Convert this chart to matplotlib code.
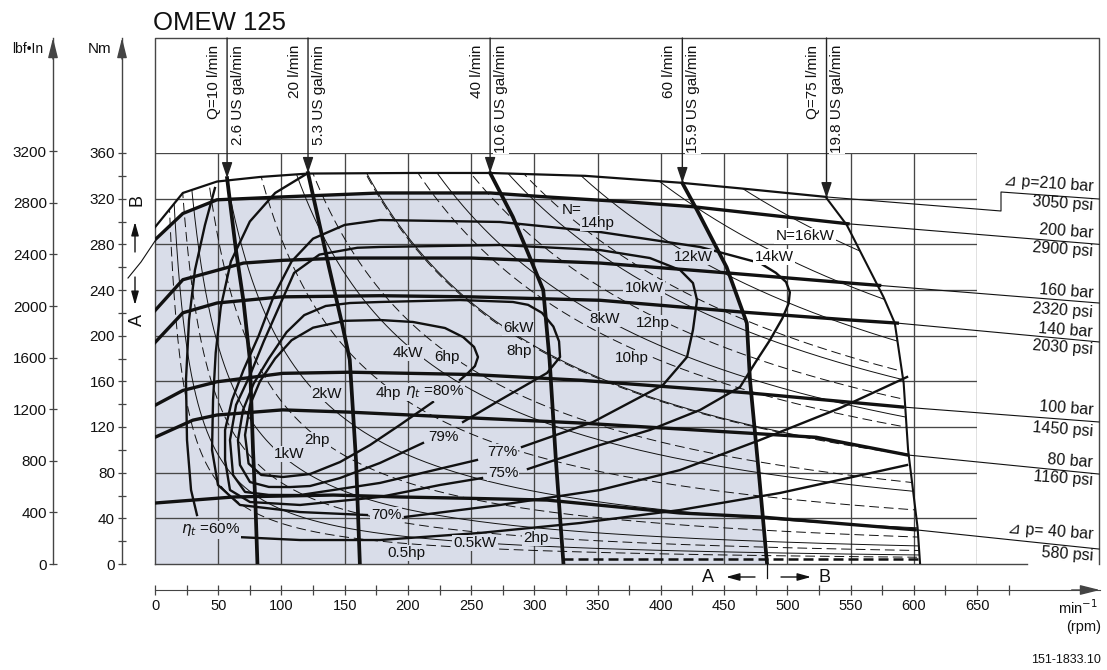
import numpy as np
import matplotlib
matplotlib.use("Agg")
import matplotlib.pyplot as plt
from matplotlib.patches import Polygon

plt.rcParams["font.family"] = ["Liberation Sans", "DejaVu Sans"]
plt.rcParams["mathtext.fontset"] = "dejavusans"

# ======================= DATA =======================
TITLE = "OMEW 125"
RPM_TICKS = list(range(0, 651, 50))
RPM_MINOR = list(range(25, 676, 50))
NM_TICKS = list(range(0, 361, 40))
NM_MINOR = list(range(20, 341, 40))
LBF_TICKS = list(range(0, 3201, 400))
NM_PER_LBFIN = 0.112985

# pressure drop curves (bar / psi), thick part: speed [min-1], torque [Nm]
PRESS_BAR = [210, 200, 160, 140, 100, 80, 40]
PRESS_PSI = [3050, 2900, 2320, 2030, 1450, 1160, 580]
p210_rpm = [0, 22, 49, 83, 121, 204, 265, 340, 415, 463, 531]
p210_nm = [295, 325, 335, 339, 342, 342.5, 342.5, 340, 334, 329, 321.5]
p200_rpm = [0, 22, 49, 100, 178, 265, 310, 376, 425, 548]
p200_nm = [284, 307, 319, 321.5, 325, 325, 321.5, 317, 313, 298]
p160_rpm = [0, 22, 70, 101, 150, 250, 352, 452, 550, 573]
p160_nm = [222, 249, 263.6, 266, 268, 268, 263.6, 255, 246, 244]
p140_rpm = [0, 22, 49, 100, 178, 250, 352, 465, 550, 587]
p140_nm = [194, 220, 228.6, 234, 235, 234, 231, 220.6, 213.7, 211]
p100_rpm = [0, 22, 49, 101, 154, 250, 336, 468, 591]
p100_nm = [139, 152, 159.6, 167, 168, 166, 161, 150, 137.5]
p80_rpm = [0, 30, 49, 101, 154, 336, 468, 523, 595]
p80_nm = [111, 126, 130.5, 135, 133, 123.5, 114.7, 111, 95.5]
p40_rpm = [0, 62, 141, 194, 250, 310, 415, 481, 601]
p40_nm = [53.4, 58.7, 60.4, 58.7, 57.5, 56, 44.7, 41, 30]
# torque at the right frame where the thin leader of each curve ends
p_leader_nm = [319.7, 280, 228.6, 194.5, 124.4, 78.8, 13.1]

# oil flow curves (l/min / US gal/min)
Q_LPM = [10, 20, 40, 60, 75]
Q_GAL = [2.6, 5.3, 10.6, 15.9, 19.8]
q10_rpm = [57, 64, 70, 75, 77.5, 79.5, 81]
q10_nm = [338, 275, 230, 179, 100, 50, 0]
q20_rpm = [121, 137.6, 148, 154, 159, 162]
q20_nm = [342.5, 260, 210, 179, 90, 0]
q40_rpm = [265, 283, 294, 307, 312, 317, 323]
q40_nm = [342.5, 304, 275, 240, 179, 91, 0]
q60_rpm = [417, 428.6, 452, 468, 470.5, 478, 484]
q60_nm = [333.7, 310, 260, 211, 161, 73.6, 0]
q75_rpm = [531, 547, 576, 585, 592, 595.5, 603, 605]
q75_nm = [320.5, 297, 234, 211, 158.5, 100, 32, 0]

# total efficiency contours
eta80_rpm = [219.8, 193.7, 170.0, 146.3, 122.6, 101.2, 84.0, 74.0, 71.2, 75.1, 83, 95, 108, 125, 150,
             177.9, 204.0, 229.3, 243.6, 252.3, 255.4, 253.0, 247.5, 241.2]
eta80_nm = [141.9, 121.8, 104.2, 89.3, 78.8, 76.2, 78.0, 88.0, 113.0, 139.3, 160, 180, 196, 207, 213,
            213.7, 212.0, 206.7, 198.8, 190.1, 181.3, 173.4, 167.3, 161.2]
eta79_rpm = [243.6, 272.8, 310.0, 320.3, 319.5, 315, 306, 295, 283.1, 241.2, 177.9, 154.2, 135, 118, 104,
             90, 78, 69.6, 65.6, 67.2, 75.1, 90, 106.8, 122.6, 146.3, 177.9, 211.9]
eta79_nm = [124.4, 143.6, 167.3, 181.3, 195, 208, 220, 227, 229.5, 231.2, 229.5, 228.6, 226, 218, 203,
            180, 158, 134.9, 108.6, 86.7, 71.8, 67.5, 67.4, 68.3, 75.3, 88.5, 106.0]
eta77_rpm = [290.2, 346.4, 401.7, 420.7, 425.4, 428.6, 425.4, 415.2, 391.4, 351.9, 272.8, 177.9, 160, 130,
             110, 98, 86, 75, 64.1, 59.3, 61.7, 71.2, 90, 114.7, 177.9, 254.6]
eta77_nm = [102.5, 124.4, 156.8, 181.3, 205.0, 231.2, 246.1, 257.5, 268.0, 275.0, 279.4, 277.7, 277, 271,
            255, 225, 195, 165, 139.3, 108.6, 78.0, 63.1, 60.5, 60.4, 71.0, 91.1]
eta75_rpm = [294.9, 351.9, 391.4, 431.0, 462.6, 476.0, 486.3, 496, 501, 502, 499, 491, 478.4, 431.0, 351.9,
             272.8, 177.9, 150, 125, 108, 94, 82, 70, 60.9, 55.4, 55.4, 59.3, 75.1, 114.7, 177.9, 225.4,
             258.6]
eta75_nm = [83.2, 104.2, 117.4, 134.9, 155.0, 178.7, 196.2, 215, 228, 238, 247, 255, 263.6, 277.7, 290.8,
            299.6, 301.3, 297, 285, 265, 235, 200, 170, 143.6, 117.4, 91.1, 64.8, 54.3, 51.7, 58.7, 69.2,
            75.3]
eta70a_rpm = [121, 95, 75, 60, 52, 48, 45.9, 45.1, 49.8, 67.2, 114.7, 167.6]
eta70a_nm = [342.5, 325, 300, 265, 225, 185, 143.6, 99.9, 69.2, 51.7, 45.5, 42.9]
eta70b_rpm = [197.7, 272.8, 351.9, 415.2, 478.4, 541.7, 594.7]
eta70b_nm = [41.2, 51.7, 64.8, 82.3, 108.6, 136.6, 163.8]
eta60a_rpm = [47.4, 39.5, 31.6, 26.9, 24.5, 25.3, 28.5, 33.2]
eta60a_nm = [329.3, 296.9, 257.5, 213.7, 161.2, 108.6, 64.8, 42.9]
eta60b_rpm = [65.6, 114.7, 177.9, 257, 336.1, 415.2, 494.2, 594.7]
eta60b_nm = [23.6, 21.0, 21.0, 27.2, 35.9, 47.3, 62.2, 86.7]

# output power levels (iso-power lines)
KW_LEVELS = [0.5, 1, 2, 4, 6, 8, 10, 12, 14, 16]
HP_LEVELS = [0.5, 1, 2, 4, 6, 8, 10, 12, 14]
KW_PER_HP = 0.7457
idle_rpm = [323, 605]
idle_nm = [4, 4]

# ======================= LAYOUT =======================
PX_W, PX_H = 1107, 670
X0, X1 = 155, 977      # pixel columns of 0 and 650 min-1
Y0, Y1 = 564, 153      # pixel rows of 0 and 360 Nm
SX = (X1 - X0) / 650.0
SY = (Y0 - Y1) / 360.0


def rx(px):
    return (px - X0) / SX


def ny(py):
    return (Y0 - py) / SY


INK = "#111111"
GRID = "#474747"
SHADE = "#d9dde9"
FS = 11

fig = plt.figure(figsize=(PX_W / 100, PX_H / 100), dpi=100)
ax = fig.add_axes([X0 / PX_W, 1 - Y0 / PX_H, (X1 - X0) / PX_W, (Y0 - Y1) / PX_H])
ax.set_xlim(0, 650)
ax.set_ylim(0, 360)
ax.set_axis_off()

R_FRAME = rx(1099)
T_FRAME = ny(38)

# shaded continuous-operation area: under 200 bar, left of 60 l/min
shade = ax.fill_between(p200_rpm, 0, p200_nm, color=SHADE, lw=0, zorder=0)
clipv = [(0, 0), (0, 400), (q60_rpm[0], 400)] + list(zip(q60_rpm, q60_nm))
shade.set_clip_path(Polygon(clipv, closed=True, transform=ax.transData))

# grid
for r in RPM_TICKS[1:]:
    ax.plot([r, r], [0, 360], color=GRID, lw=0.95, zorder=1)
for t in NM_TICKS[1:]:
    ax.plot([0, 650], [t, t], color=GRID, lw=0.95, zorder=1)
# frame
ax.plot([0, 0, R_FRAME, R_FRAME], [0, T_FRAME, T_FRAME, 0], color=GRID, lw=1.0,
        clip_on=False, zorder=1)
ax.plot([0, rx(1027)], [0, 0], color=GRID, lw=1.0, clip_on=False, zorder=1)

# iso-power lines clipped to the operating envelope
env = list(zip(p210_rpm, p210_nm)) + list(zip(q75_rpm, q75_nm)) + [(0, 0)]
n = np.linspace(2, 650, 1500)
for p in KW_LEVELS:
    ln, = ax.plot(n, 9549.3 * p / n, color=INK, lw=0.7, zorder=2)
    ln.set_clip_path(Polygon(env, closed=True, transform=ax.transData))
for hp in HP_LEVELS:
    ln, = ax.plot(n, 9549.3 * hp * KW_PER_HP / n, color=INK, lw=0.7, dashes=(10, 5), zorder=2)
    ln.set_clip_path(Polygon(env, closed=True, transform=ax.transData))
ax.plot(idle_rpm, idle_nm, color=INK, lw=1.8, dashes=(4, 2), zorder=2)

# efficiency contours
for rr, nn in [(eta80_rpm, eta80_nm), (eta79_rpm, eta79_nm), (eta77_rpm, eta77_nm),
               (eta75_rpm, eta75_nm), (eta70a_rpm, eta70a_nm), (eta70b_rpm, eta70b_nm),
               (eta60a_rpm, eta60a_nm), (eta60b_rpm, eta60b_nm)]:
    ax.plot(rr, nn, color=INK, lw=1.7, zorder=3, solid_joinstyle="round")

# pressure curves
P_CURVES = [(p210_rpm, p210_nm), (p200_rpm, p200_nm), (p160_rpm, p160_nm), (p140_rpm, p140_nm),
            (p100_rpm, p100_nm), (p80_rpm, p80_nm), (p40_rpm, p40_nm)]
for i, (rr, nn) in enumerate(P_CURVES):
    ax.plot(rr, nn, color=INK, lw=1.6 if i == 0 else 2.4, zorder=4, solid_joinstyle="round")
    if i == 0:
        ax.plot([rr[-1], rx(1001), rx(1001), R_FRAME], [nn[-1], ny(211), ny(192), p_leader_nm[0]],
                color=INK, lw=0.8, clip_on=False, zorder=4)
    else:
        ax.plot([rr[-1], R_FRAME], [nn[-1], p_leader_nm[i]], color=INK, lw=0.8,
                clip_on=False, zorder=4)

# flow curves
Q_CURVES = [(q10_rpm, q10_nm), (q20_rpm, q20_nm), (q40_rpm, q40_nm), (q60_rpm, q60_nm),
            (q75_rpm, q75_nm)]
for i, (rr, nn) in enumerate(Q_CURVES):
    ax.plot(rr, nn, color=INK, lw=1.5 if i == 4 else 2.7, zorder=5, solid_joinstyle="round")
    ax.annotate("", xy=(rr[0], nn[0]), xytext=(rr[0], T_FRAME),
                arrowprops=dict(arrowstyle="-|>,head_length=0.95,head_width=0.32",
                                mutation_scale=10, lw=1.0, color="#222222",
                                shrinkA=0, shrinkB=0),
                annotation_clip=False, zorder=5)
    pre = "Q=" if i in (0, 4) else ""
    ax.text(rr[0] - 10.5, ny(45), f"{pre}{Q_LPM[i]} l/min", rotation=90, ha="center",
            va="top", fontsize=FS, color=INK, clip_on=False, zorder=6)
    ax.text(rr[0] + 8.5, ny(45), f"{Q_GAL[i]} US gal/min", rotation=90, ha="center",
            va="top", fontsize=FS, color=INK, clip_on=False, zorder=6,
            bbox=dict(boxstyle="square,pad=0.05", fc="white", ec="none"))

# pressure labels at the right
PL_Y = [(187, 206), (233, 252), (293, 313), (332, 350), (410, 432), (463, 481), (535, 556)]
for i, (bar, psi) in enumerate(zip(PRESS_BAR, PRESS_PSI)):
    if i == 0:
        top = f"\u22bf p={bar} bar"
    elif i == len(PRESS_BAR) - 1:
        top = f"\u22bf p= {bar} bar"
    else:
        top = f"{bar} bar"
    for txt, py in ((top, PL_Y[i][0]), (f"{psi} psi", PL_Y[i][1])):
        ax.text(rx(1093), ny(py), txt, ha="right", va="center", rotation=-4,
                rotation_mode="anchor", fontsize=11.5, color=INK, clip_on=False, zorder=6)

# power labels
POWER_LABELS = [("N=", 572, 210), ("14hp", 598, 223), ("N=16kW", 805, 236), ("12kW", 693, 257),
                ("14kW", 774, 257), ("10kW", 644, 288), ("8kW", 605, 319), ("12hp", 653, 323),
                ("6kW", 518, 328), ("8hp", 519, 351), ("10hp", 632, 358), ("4kW", 408, 353),
                ("6hp", 447, 357), ("2kW", 327, 394), ("4hp", 388, 393), ("1kW", 289, 454),
                ("2hp", 317, 440), ("0.5kW", 475, 543), ("0.5hp", 406, 553), ("2hp", 536, 538)]
WHITE_LABELS = {"N=16kW", "14kW"}
for txt, px, py in POWER_LABELS:
    bg = "white" if txt in WHITE_LABELS else SHADE
    ax.text(rx(px), ny(py), txt, ha="center", va="center", fontsize=FS, color=INK, zorder=6,
            clip_on=False, bbox=dict(boxstyle="square,pad=0.08", fc=bg, ec="none"))

EFF_LABELS = [(r"$\eta_t$ =80%", 405, 392, "left"), ("79%", 443, 437, "center"),
              ("77%", 502, 452, "center"), ("75%", 503, 473, "center"),
              ("70%", 386, 515, "center"), (r"$\eta_t$ =60%", 181, 530, "left")]
for txt, px, py, ha in EFF_LABELS:
    ax.text(rx(px), ny(py), txt, ha=ha, va="center", fontsize=FS, color=INK, zorder=6,
            bbox=dict(boxstyle="square,pad=0.05", fc=SHADE, ec="none"))

# A / B markers
arrow_kw = dict(arrowstyle="-|>,head_length=0.9,head_width=0.25", mutation_scale=9, lw=1.0,
                color=INK, shrinkA=0, shrinkB=0)
ax.annotate("", xy=(rx(135), ny(222)), xytext=(rx(135), ny(252)), arrowprops=arrow_kw,
            annotation_clip=False)
ax.annotate("", xy=(rx(135), ny(305)), xytext=(rx(135), ny(277)), arrowprops=arrow_kw,
            annotation_clip=False)
ax.text(rx(137), ny(200), "B", rotation=90, ha="center", va="center", fontsize=13, color=INK,
        clip_on=False)
ax.text(rx(137), ny(320), "A", rotation=90, ha="center", va="center", fontsize=13, color=INK,
        clip_on=False)
ax.plot([rx(128), rx(141), 0], [ny(278), ny(262), ny(241)], color=INK, lw=0.8, clip_on=False)

ax.plot([q60_rpm[-1], q60_rpm[-1]], [0, ny(578)], color=INK, lw=0.9, clip_on=False)
ax.annotate("", xy=(rx(726), ny(577)), xytext=(rx(755), ny(577)), arrowprops=arrow_kw,
            annotation_clip=False)
ax.annotate("", xy=(rx(811), ny(577)), xytext=(rx(781), ny(577)), arrowprops=arrow_kw,
            annotation_clip=False)
ax.text(rx(708), ny(578), "A", ha="center", va="center", fontsize=13, color=INK, clip_on=False)
ax.text(rx(825), ny(578), "B", ha="center", va="center", fontsize=13, color=INK, clip_on=False)

# title and misc text
fig.text(153 / PX_W, 1 - 30 / PX_H, TITLE, fontsize=18.5, ha="left", va="baseline", color=INK)
fig.text(1078 / PX_W, 1 - 608 / PX_H, "min$^{-1}$", fontsize=10.5, ha="center", va="center",
         color=INK)
fig.text(1084 / PX_W, 1 - 627 / PX_H, "(rpm)", fontsize=10.5, ha="center", va="center",
         color=INK)
fig.text(1101 / PX_W, 1 - 660 / PX_H, "151-1833.10", fontsize=9, ha="right", va="center",
         color=INK)
fig.text(28 / PX_W, 1 - 49 / PX_H, "lbf\u2022In", fontsize=10, ha="center", va="center",
         color=INK)
fig.text(100 / PX_W, 1 - 49 / PX_H, "Nm", fontsize=11, ha="center", va="center", color=INK)

AXC = "#444444"
head_kw = dict(arrowstyle="-|>,head_length=1.2,head_width=0.3", mutation_scale=10, lw=1.0,
               color=AXC, shrinkA=0, shrinkB=0)


def vertical_scale(px, top_val, ticks, minor, pad):
    a = fig.add_axes([px / PX_W, 1 - Y0 / PX_H, 0.0001, (Y0 - 38) / PX_H])
    a.set_ylim(0, top_val)
    for s in ("top", "right", "bottom"):
        a.spines[s].set_visible(False)
    a.spines["left"].set_color(AXC)
    a.spines["left"].set_linewidth(1.0)
    a.patch.set_visible(False)
    a.set_xticks([])
    a.set_yticks(ticks)
    a.set_yticks(minor, minor=True)
    a.tick_params(axis="y", which="both", direction="inout", length=6, width=0.9,
                  colors=AXC, labelcolor=INK, labelsize=11, pad=pad)
    a.annotate("", xy=(0, 1), xytext=(0, 0.96), xycoords="axes fraction",
               arrowprops=head_kw, annotation_clip=False)
    return a


vertical_scale(122, T_FRAME, NM_TICKS, NM_MINOR, 2)
vertical_scale(53, T_FRAME / NM_PER_LBFIN, LBF_TICKS, [], 1.5)

axx = fig.add_axes([X0 / PX_W, 1 - 590 / PX_H, (1100 - X0) / PX_W, 0.0001])
axx.set_xlim(0, rx(1100))
for s in ("top", "right", "left"):
    axx.spines[s].set_visible(False)
axx.spines["bottom"].set_color(AXC)
axx.patch.set_visible(False)
axx.set_yticks([])
axx.set_xticks(RPM_TICKS)
axx.set_xticks(RPM_MINOR, minor=True)
axx.tick_params(axis="x", which="both", direction="inout", length=7, width=0.9, colors=AXC,
                labelcolor=INK, labelsize=10.5, pad=3)
axx.annotate("", xy=(1, 0), xytext=(0.97, 0), xycoords="axes fraction", arrowprops=head_kw,
             annotation_clip=False)

fig.savefig("out.png", dpi=100)
